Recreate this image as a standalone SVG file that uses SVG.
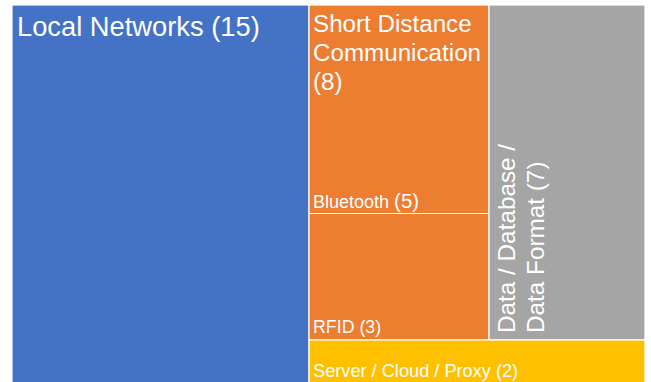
<svg xmlns="http://www.w3.org/2000/svg" width="651" height="382" viewBox="0 0 651 382">
<style>
.cell{stroke:#fff;stroke-width:1.2}
.t{font-family:"Liberation Sans",Arial,sans-serif;fill:#fff}
</style>
<rect width="651" height="382" fill="#fff"/>
<g id="local-networks">
<rect class="cell" x="12" y="5" width="297" height="380" fill="#4472C4"/>
<text class="t" x="17" y="36" font-size="27.3">Local Networks (15)</text>
</g>
<g id="short-distance">
<rect class="cell" x="309" y="5" width="180" height="335" fill="#ED7D31"/>
<text class="t" font-size="24.2"><tspan x="313" y="32">Short Distance</tspan><tspan x="313" y="61">Communication</tspan><tspan x="313" y="90">(8)</tspan></text>
</g>
<g id="bluetooth">
<line x1="309" y1="213.5" x2="489" y2="213.5" stroke="#fff" stroke-width="1.2"/>
<text class="t" x="313" y="208" font-size="18">Bluetooth <tspan font-size="20.5">(5)</tspan></text>
</g>
<g id="rfid">
<text class="t" x="313" y="333" font-size="17.8">RFID (3)</text>
</g>
<g id="data">
<rect class="cell" x="489" y="5" width="156" height="335" fill="#A5A5A5"/>
<text class="t" font-size="24.3" transform="translate(0,333) rotate(-90)"><tspan x="0" y="515">Data / Database /</tspan><tspan x="0" y="544">Data Format (7)</tspan></text>
</g>
<g id="server">
<rect class="cell" x="309" y="340" width="336" height="45" fill="#FFC000"/>
<text class="t" x="313" y="377" font-size="18.2">Server / Cloud / Proxy (2)</text>
</g>
<g id="connectors"></g>
</svg>
